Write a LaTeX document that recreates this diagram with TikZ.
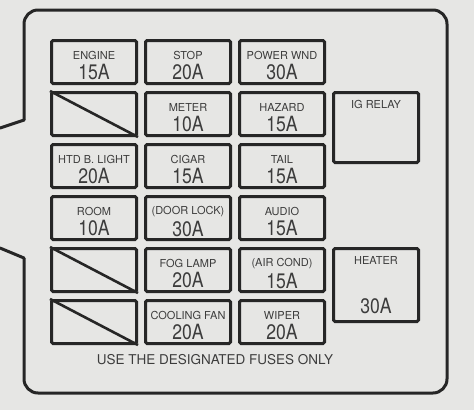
\documentclass[tikz,border=0pt]{standalone}
\usepackage{fontspec}
\setmainfont{TeX Gyre Heros}
\newfontfamily\ampface[FakeStretch=0.84]{TeX Gyre Heros}
\usetikzlibrary{positioning}
\definecolor{paper}{HTML}{E6E6E4}
\definecolor{ink}{HTML}{262626}
\newcommand\lblsize{\fontsize{11}{13}\selectfont}
\newcommand\ampsize{\fontsize{21}{20}\selectfont\ampface}
% label line and amperage line of one fuse
\newcommand\fusetext[2]{\rule{0pt}{15pt}\lblsize #1\\[4pt]\ampsize #2}
\tikzset{
  fuse/.style={draw=ink, line width=3pt, rounded corners=1.5pt, minimum width=85pt,
    minimum height=43pt, inner sep=0pt, align=center, text=ink!90},
  relay/.style={fuse, minimum height=70pt},
  outline/.style={draw=ink, line width=3pt, line cap=round, line join=round},
  slash/.style={draw=ink, line width=2.6pt},
  note/.style={font=\fontsize{13.5}{15}\selectfont, text=ink!90}
}
\begin{document}
\begin{tikzpicture}[x=1pt,y=-1pt,node distance=6pt and 6pt]
  \fill[paper] (0,0) rectangle (474,410);
  \useasboundingbox (0,0) rectangle (474,410);
  % case outline
  \draw[outline] (0,128) -- (24,120);
  \draw[outline, rounded corners=14pt] (24,120) -- (24,10) -- (447,10) -- (447,393) -- (24,393) -- (24,258);
  \draw[outline] (24,258) -- (0,248);
  % first column
  \node[fuse] (engine) at (94,62) {\fusetext{ENGINE}{15A}};
  \node[fuse] (blankA) [below=of engine] {};
  \node[fuse] (htd) [below=of blankA] {\fusetext{HTD B. LIGHT}{20A}};
  \node[fuse] (room) [below=of htd] {\fusetext{ROOM}{10A}};
  \node[fuse] (blankB) [below=of room] {};
  \node[fuse] (blankC) [below=of blankB] {};
  % second column
  \node[fuse] (stop) [right=of engine] {\fusetext{STOP}{20A}};
  \node[fuse] (meter) [below=of stop] {\fusetext{METER}{10A}};
  \node[fuse] (cigar) [below=of meter] {\fusetext{CIGAR}{15A}};
  \node[fuse] (doorlock) [below=of cigar] {\fusetext{(DOOR LOCK)}{30A}};
  \node[fuse] (foglamp) [below=of doorlock] {\fusetext{FOG LAMP}{20A}};
  \node[fuse] (coolingfan) [below=of foglamp] {\fusetext{COOLING FAN}{20A}};
  % third column
  \node[fuse] (powerwnd) [right=of stop] {\fusetext{POWER WND}{30A}};
  \node[fuse] (hazard) [below=of powerwnd] {\fusetext{HAZARD}{15A}};
  \node[fuse] (tail) [below=of hazard] {\fusetext{TAIL}{15A}};
  \node[fuse] (audio) [below=of tail] {\fusetext{AUDIO}{15A}};
  \node[fuse] (aircond) [below=of audio] {\fusetext{(AIR COND)}{15A}};
  \node[fuse] (wiper) [below=of aircond] {\fusetext{WIPER}{20A}};
  % relays
  \node[relay] (igrelay) [right=of hazard.north east, anchor=north west] {};
  \node[font=\lblsize, text=ink!90, inner sep=0pt] (igtext) [below=9pt of igrelay.north] {IG RELAY};
  \node[relay, minimum height=73pt] (heater) [right=of aircond.north east, anchor=north west]
    {\lblsize HEATER\\[33pt]\ampsize 30A};
  % empty slots
  \draw[slash] (blankA.north west) -- (blankA.south east);
  \draw[slash] (blankB.north west) -- (blankB.south east);
  \draw[slash] (blankC.north west) -- (blankC.south east);
  \node[note] (usenote) at (215,360) {USE THE DESIGNATED FUSES ONLY};
\end{tikzpicture}
\end{document}
